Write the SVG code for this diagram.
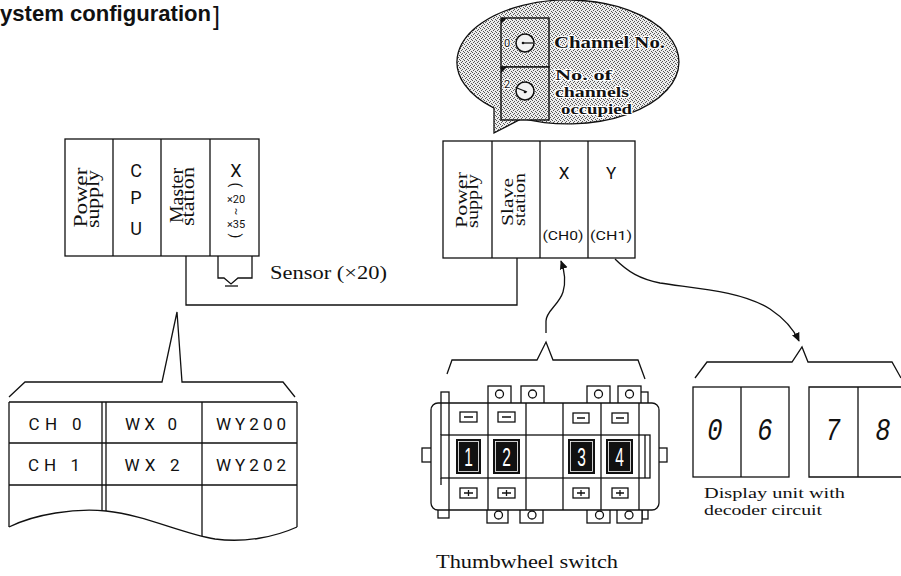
<svg xmlns="http://www.w3.org/2000/svg" width="901" height="576" viewBox="0 0 901 576">
  <style>
    .ln { fill: none; stroke: #111; stroke-width: 1.3; }
    .box { fill: #fff; stroke: #111; stroke-width: 1.3; }
    .serif { font-family: "Liberation Serif", "Times New Roman", serif; fill: #111; }
    .thin { font-family: Roboto, "Liberation Sans", Arial, sans-serif; font-weight: 400; fill: #111; }
    .bold { font-family: "Liberation Serif", serif; font-weight: bold; fill: #111; stroke: #fff; stroke-width: 2.2; paint-order: stroke; stroke-linejoin: round; }
    .seg { font-family: "Liberation Mono", "DejaVu Sans Mono", monospace; font-style: italic; fill: #111; }
    .wdig { font-family: "Liberation Sans", Arial, sans-serif; fill: #fff; }
  </style>
  <defs>
    <pattern id="stipple" width="4" height="4" patternUnits="userSpaceOnUse">
      <rect width="4" height="4" fill="#ededed"/>
      <rect x="0" y="0" width="1" height="1" fill="#555"/>
      <rect x="2" y="1" width="1" height="1" fill="#555"/>
      <rect x="1" y="2" width="1" height="1" fill="#555"/>
      <rect x="3" y="3" width="1" height="1" fill="#555"/>
    </pattern>
    <marker id="arrow" viewBox="0 0 10 10" refX="9" refY="5" markerWidth="9" markerHeight="9" markerUnits="userSpaceOnUse" orient="auto">
      <path d="M0,0.5 L10,5 L0,9.5 Z" fill="#111"/>
    </marker>
  </defs>

  <!-- heading -->
  <g id="title">
    <text x="0" y="21" font-family="'Liberation Sans', Arial, sans-serif" font-weight="bold" font-size="22" textLength="211" lengthAdjust="spacingAndGlyphs" fill="#111">ystem configuration</text>
    <text x="213" y="25" font-family="'Liberation Sans', Arial, sans-serif" font-size="25" fill="#111">]</text>
  </g>

  <!-- master rack -->
  <g id="master-rack">
    <rect class="box" x="65" y="139" width="194" height="117"/>
    <path class="ln" d="M113,139 V256 M161,139 V256 M210,139 V256"/>
    <text class="serif" font-size="18" text-anchor="middle" textLength="60" lengthAdjust="spacingAndGlyphs" transform="translate(87,197.5) rotate(-90)">Power</text>
    <text class="serif" font-size="18" text-anchor="middle" textLength="58" lengthAdjust="spacingAndGlyphs" transform="translate(99,199) rotate(-90)">supply</text>
    <text class="thin" font-size="18" text-anchor="middle" x="136" y="177">C</text>
    <text class="thin" font-size="18" text-anchor="middle" x="136" y="204">P</text>
    <text class="thin" font-size="18" text-anchor="middle" x="136" y="235">U</text>
    <text class="serif" font-size="18" text-anchor="middle" textLength="55" lengthAdjust="spacingAndGlyphs" transform="translate(183,195.5) rotate(-90)">Master</text>
    <text class="serif" font-size="18" text-anchor="middle" textLength="59" lengthAdjust="spacingAndGlyphs" transform="translate(194,196.5) rotate(-90)">station</text>
    <text class="thin" font-size="18" text-anchor="middle" x="236" y="177">X</text>
    <text class="thin" font-size="14" text-anchor="middle" transform="translate(231,185) rotate(90)">(</text>
    <text class="thin" font-size="11" text-anchor="middle" x="236" y="203">×20</text>
    <text class="thin" font-size="11" text-anchor="middle" transform="translate(233,211.5) rotate(90)">~</text>
    <text class="thin" font-size="11" text-anchor="middle" x="236" y="228">×35</text>
    <text class="thin" font-size="14" text-anchor="middle" transform="translate(231,236) rotate(90)">)</text>
  </g>

  <!-- sensor on the X unit -->
  <g id="sensor">
    <path class="ln" d="M218,256 V278 H224 L231,284 L238,278 H252 V256"/>
    <path class="ln" d="M225,286 H238" stroke-width="1.8"/>
    <text class="serif" x="270" y="279" font-size="18" textLength="117" lengthAdjust="spacingAndGlyphs">Sensor (×20)</text>
  </g>

  <!-- slave rack -->
  <g id="slave-rack">
    <rect class="box" x="443" y="141" width="192" height="117"/>
    <path class="ln" d="M492,141 V258 M540,141 V258 M588,141 V258"/>
    <text class="serif" font-size="17" text-anchor="middle" textLength="56" lengthAdjust="spacingAndGlyphs" transform="translate(467,200) rotate(-90)">Power</text>
    <text class="serif" font-size="17" text-anchor="middle" textLength="54" lengthAdjust="spacingAndGlyphs" transform="translate(478,201) rotate(-90)">supply</text>
    <text class="serif" font-size="17" text-anchor="middle" textLength="48" lengthAdjust="spacingAndGlyphs" transform="translate(513,202) rotate(-90)">Slave</text>
    <text class="serif" font-size="17" text-anchor="middle" textLength="53" lengthAdjust="spacingAndGlyphs" transform="translate(525,199.5) rotate(-90)">station</text>
    <text class="thin" font-size="17" text-anchor="middle" x="564" y="179">X</text>
    <text class="thin" font-size="17" text-anchor="middle" x="611" y="179">Y</text>
    <text class="thin" font-size="13" text-anchor="middle" x="563" y="240" textLength="41" lengthAdjust="spacingAndGlyphs">(CH0)</text>
    <text class="thin" font-size="13" text-anchor="middle" x="611" y="240" textLength="42" lengthAdjust="spacingAndGlyphs">(CH1)</text>
  </g>

  <!-- callout with the station switches -->
  <g id="switch-callout">
    <path d="M494,108.2 L494,133 L522,118.4 A111,62 0 1 0 494,108.2 Z" fill="url(#stipple)" stroke="#111" stroke-width="1.3"/>
    <rect x="501" y="18" width="48" height="49" fill="url(#stipple)" stroke="#111" stroke-width="1.4"/>
    <rect x="501" y="67" width="48" height="53" fill="url(#stipple)" stroke="#111" stroke-width="1.4"/>
    <path d="M501,18 H507 L501,24 Z M501,67 H507 L501,73 Z" fill="#111"/>
    <circle cx="525" cy="43" r="9" fill="#f2f2f2" stroke="#111" stroke-width="1.5"/>
    <path class="ln" d="M523,43 H533" stroke-width="1.6"/>
    <circle cx="523" cy="43" r="1.3" fill="#111"/>
    <circle cx="525" cy="91" r="9" fill="#f2f2f2" stroke="#111" stroke-width="1.5"/>
    <path class="ln" d="M517,88 L527,92" stroke-width="1.6"/>
    <circle cx="525" cy="92" r="1.3" fill="#111"/>
    <text class="thin" x="504" y="47" font-size="11" fill="#111" stroke="#fff" stroke-width="2" paint-order="stroke">0</text>
    <text class="thin" x="504" y="88" font-size="11" fill="#111" stroke="#fff" stroke-width="2" paint-order="stroke">2</text>
    <text class="bold" x="554" y="48" font-size="17" textLength="111" lengthAdjust="spacingAndGlyphs">Channel No.</text>
    <text class="bold" x="555" y="80" font-size="15" textLength="57" lengthAdjust="spacingAndGlyphs">No. of</text>
    <text class="bold" x="555" y="97" font-size="15" textLength="74" lengthAdjust="spacingAndGlyphs">channels</text>
    <text class="bold" x="561" y="114" font-size="15" textLength="71" lengthAdjust="spacingAndGlyphs">occupied</text>
  </g>

  <!-- link and signal lines -->
  <g id="connectors">
    <path class="ln" d="M186,256 V305 H517 V258"/>
    <path class="ln" d="M546,333 V321 C546,311 559,305 563,292 C566,282 565,272 561,261" marker-end="url(#arrow)"/>
    <path class="ln" d="M615,259 C628,272 640,279 660,283 C690,288 740,290 770,309 C785,319 794,330 799,341" marker-end="url(#arrow)"/>
  </g>

  <!-- I/O allocation table -->
  <g id="io-table">
    <path class="ln" d="M9,397 L25,382 H162 L177,312 L182,382 H283 L295,397"/>
    <path class="ln" d="M9,402 H297 M9,443 H297 M9,485 H297 M9,402 V527 M297,402 V527"/>
    <path class="ln" d="M102,402 V511 M106,402 V511 M202,402 V536"/>
    <path class="ln" d="M9,527 C35,514 75,508 106,511 C145,515 180,533 215,539 C245,543 275,537 297,527"/>
    <text class="thin" font-size="17" text-anchor="middle" x="55" y="430" textLength="53" lengthAdjust="spacing">CH 0</text>
    <text class="thin" font-size="17" text-anchor="middle" x="151" y="430" textLength="52" lengthAdjust="spacing">WX 0</text>
    <text class="thin" font-size="17" text-anchor="middle" x="251" y="430" textLength="70" lengthAdjust="spacing">WY200</text>
    <text class="thin" font-size="17" text-anchor="middle" x="54" y="471" textLength="52" lengthAdjust="spacing">CH 1</text>
    <text class="thin" font-size="17" text-anchor="middle" x="152" y="471" textLength="55" lengthAdjust="spacing">WX 2</text>
    <text class="thin" font-size="17" text-anchor="middle" x="251" y="471" textLength="70" lengthAdjust="spacing">WY202</text>
  </g>

  <!-- thumbwheel switch -->
  <g id="thumbwheel">
    <path class="ln" d="M447,374 L452,360 H537 L546,342 L553,360 H638 L645,379"/>
    <rect class="box" x="441" y="392" width="8" height="12"/>
    <rect class="box" x="640" y="392" width="8" height="12"/>
    <rect class="box" x="488" y="386" width="23" height="18"/>
    <rect class="box" x="521" y="386" width="23" height="18"/>
    <rect class="box" x="587" y="386" width="23" height="18"/>
    <rect class="box" x="618" y="386" width="23" height="18"/>
    <circle class="ln" cx="499.5" cy="394" r="4"/>
    <circle class="ln" cx="532.5" cy="394" r="4"/>
    <circle class="ln" cx="598.5" cy="394" r="4"/>
    <circle class="ln" cx="629.5" cy="394" r="4"/>
    <rect class="box" x="438" y="508" width="11" height="10"/>
    <rect class="box" x="642" y="508" width="6" height="11"/>
    <rect class="box" x="487" y="508" width="21" height="15"/>
    <rect class="box" x="520" y="508" width="23" height="15"/>
    <rect class="box" x="587" y="508" width="23" height="15"/>
    <rect class="box" x="617" y="508" width="25" height="15"/>
    <circle class="ln" cx="498.5" cy="515" r="4"/>
    <circle class="ln" cx="532" cy="515" r="4"/>
    <circle class="ln" cx="599.5" cy="515" r="4"/>
    <circle class="ln" cx="629" cy="515" r="4"/>
    <rect class="box" x="422" y="448" width="10" height="14"/>
    <rect class="box" x="658" y="448" width="9" height="14"/>
    <rect class="box" x="431" y="403" width="228" height="107" rx="7"/>
    <rect class="ln" x="441" y="435" width="209" height="43"/>
    <path class="ln" d="M645,435 V478" stroke-width="2.4"/>
    <path class="ln" d="M441,403 V435 M441,478 V485"/>
    <path class="ln" d="M449,403 V510 M488,403 V510 M526,403 V510 M563,403 V510 M601,403 V510 M639,403 V510"/>
    <g class="ln" stroke-width="1.1">
      <rect x="460" y="412" width="17" height="10"/>
      <rect x="498" y="412" width="17" height="10"/>
      <rect x="573" y="413" width="16" height="10"/>
      <rect x="612" y="413" width="16" height="10"/>
      <path d="M464,417 H473 M502,417 H511 M577,418 H585 M616,418 H624"/>
      <rect x="460" y="488" width="17" height="10"/>
      <rect x="498" y="488" width="17" height="10"/>
      <rect x="573" y="488" width="16" height="10"/>
      <rect x="612" y="488" width="16" height="10"/>
      <path d="M464,493 H473 M468.5,490 V496 M502,493 H511 M506.5,490 V496 M577,493 H585 M581,490 V496 M616,493 H624 M620,490 V496"/>
    </g>
    <rect x="456" y="439" width="25" height="35" fill="#111"/>
    <rect x="493" y="439" width="27" height="35" fill="#111"/>
    <rect x="568" y="439" width="27" height="35" fill="#111"/>
    <rect x="606" y="439" width="27" height="35" fill="#111"/>
    <g fill="none" stroke="#fff" stroke-width="0.8">
      <rect x="458.5" y="441.5" width="20" height="30"/>
      <rect x="495.5" y="441.5" width="22" height="30"/>
      <rect x="570.5" y="441.5" width="22" height="30"/>
      <rect x="608.5" y="441.5" width="22" height="30"/>
    </g>
    <text class="wdig" font-size="25" text-anchor="middle" transform="translate(468.5,466) scale(0.62,1)">1</text>
    <text class="wdig" font-size="25" text-anchor="middle" transform="translate(506.5,466) scale(0.62,1)">2</text>
    <text class="wdig" font-size="25" text-anchor="middle" transform="translate(581.5,466) scale(0.62,1)">3</text>
    <text class="wdig" font-size="25" text-anchor="middle" transform="translate(619.5,466) scale(0.62,1)">4</text>
    <text class="serif" x="436" y="568" font-size="19" textLength="182" lengthAdjust="spacingAndGlyphs">Thumbwheel switch</text>
  </g>

  <!-- display unit -->
  <g id="display-unit">
    <path class="ln" d="M695,378 L707,362 H792 L802,347 L808,362 H892 L901,378"/>
    <rect class="ln" x="693" y="387" width="96" height="90"/>
    <path class="ln" d="M741,387 V477 M901,387 H809 V477 H901 M858,387 V477"/>
    <text class="seg" font-size="30" text-anchor="middle" transform="translate(715,440) scale(0.85,1.05)">0</text>
    <text class="seg" font-size="30" text-anchor="middle" transform="translate(765,440) scale(0.85,1.05)">6</text>
    <text class="seg" font-size="30" text-anchor="middle" transform="translate(833,440) scale(0.85,1.05)">7</text>
    <text class="seg" font-size="30" text-anchor="middle" transform="translate(883,440) scale(0.85,1.05)">8</text>
    <text class="serif" x="704" y="498" font-size="15" textLength="141" lengthAdjust="spacingAndGlyphs">Display unit with</text>
    <text class="serif" x="704" y="515" font-size="15" textLength="118" lengthAdjust="spacingAndGlyphs">decoder circuit</text>
  </g>
</svg>
